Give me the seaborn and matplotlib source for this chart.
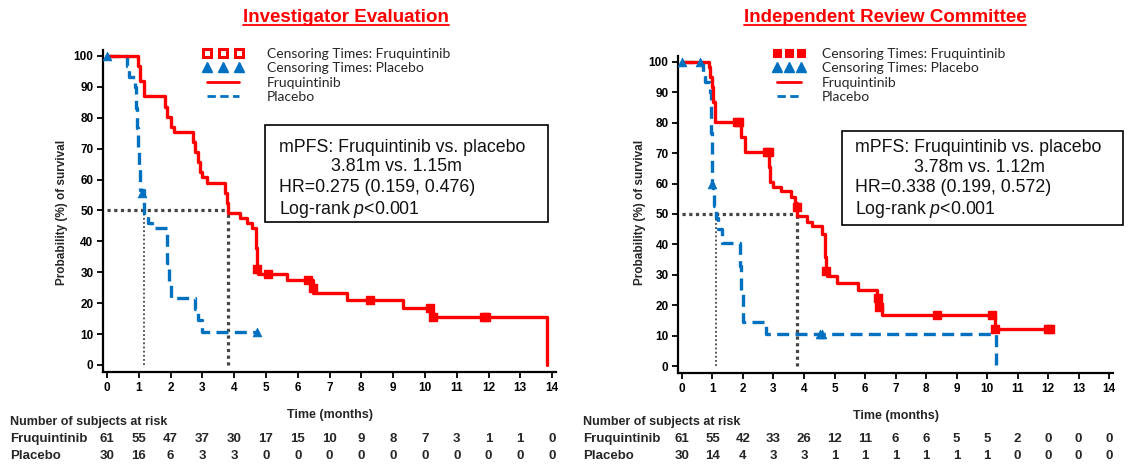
import matplotlib
matplotlib.use("Agg")
import matplotlib.pyplot as plt
import matplotlib.transforms as mtransforms
from matplotlib.lines import Line2D
from matplotlib.patches import Rectangle
import numpy as np
import pandas as pd
import seaborn as sns

# ---------------- data ----------------
months = list(range(15))

# Investigator evaluation
inv_frq_time = [0, 0.97, 1.05, 1.17, 1.82, 1.90, 2.00, 2.10, 2.72, 2.78, 2.85, 2.92, 3.00, 3.15,
                3.72, 3.78, 3.81, 4.18, 4.40, 4.55, 4.68, 4.71, 4.75, 5.65, 6.49, 7.54, 9.32,
                10.20, 13.83, 13.83]
inv_frq_surv = [100, 96.7, 91.8, 86.9, 83.6, 80.3, 77.0, 75.4, 72.1, 68.9, 65.6, 62.3, 60.7, 59.0,
                55.7, 52.5, 49.2, 47.5, 45.9, 44.2, 37.7, 31.1, 29.3, 27.5, 23.2, 21.0, 18.5,
                15.4, 15.4, 0]
inv_frq_cens_t = [4.71, 5.07, 6.33, 6.47, 8.27, 10.16, 10.25, 11.85, 11.93]
inv_frq_cens_s = [31.1, 29.3, 27.5, 25.0, 21.0, 18.5, 15.4, 15.4, 15.4]

inv_pbo_time = [0, 0.62, 0.68, 0.88, 0.90, 0.93, 0.97, 1.00, 1.04, 1.15, 1.30, 1.40, 1.88, 1.95,
                2.00, 2.77, 2.85, 2.98, 4.71]
inv_pbo_surv = [100, 96.7, 93.3, 90.0, 83.3, 76.7, 70.0, 63.3, 56.7, 48.5, 46.0, 44.2, 33.0, 27.0,
                21.6, 18.0, 14.4, 10.8, 10.8]
inv_pbo_cens_t = [0.0, 1.09, 4.71]
inv_pbo_cens_s = [100, 55.5, 10.8]

inv_medians = [3.81, 1.15]   # Fruquintinib, Placebo

inv_risk_frq = [61, 55, 47, 37, 30, 17, 15, 10, 9, 8, 7, 3, 1, 1, 0]
inv_risk_pbo = [30, 16, 6, 3, 3, 0, 0, 0, 0, 0, 0, 0, 0, 0, 0]

# Independent Review Committee
irc_frq_time = [0, 0.87, 0.93, 0.98, 1.03, 1.08, 1.93, 2.05, 2.86, 2.89, 2.98, 3.25, 3.57, 3.70,
                3.78, 4.09, 4.25, 4.60, 4.69, 4.71, 4.75, 5.07, 5.78, 6.40, 6.46, 6.55, 10.26,
                12.07]
irc_frq_surv = [100, 98.4, 95.1, 91.8, 86.9, 80.3, 75.4, 70.5, 65.5, 60.6, 59.0, 57.4, 55.7, 53.5,
                49.2, 47.5, 45.9, 43.5, 36.0, 31.1, 29.5, 27.3, 24.9, 22.3, 19.5, 16.8, 12.3,
                12.3]
irc_frq_cens_t = [1.82, 1.87, 2.80, 2.84, 3.76, 4.71, 6.42, 6.46, 8.35, 10.16, 10.26, 12.00, 12.07]
irc_frq_cens_s = [80.3, 80.3, 70.5, 70.5, 52.4, 31.1, 22.3, 19.5, 16.8, 16.8, 12.3, 12.3, 12.3]

irc_pbo_time = [0, 0.70, 0.75, 0.92, 0.94, 0.96, 0.98, 1.00, 1.03, 1.06, 1.12, 1.19, 1.30, 1.90,
                1.95, 2.00, 2.77, 10.30, 10.30]
irc_pbo_surv = [100, 96.7, 93.3, 90.0, 83.0, 76.7, 70.0, 60.0, 56.7, 52.6, 48.6, 45.0, 40.6, 33.0,
                25.0, 14.6, 10.5, 10.5, 0]
irc_pbo_cens_t = [0.0, 0.59, 1.00, 4.52, 4.58]
irc_pbo_cens_s = [100, 100, 60.0, 10.5, 10.5]

irc_medians = [3.78, 1.12]

irc_risk_frq = [61, 55, 42, 33, 26, 12, 11, 6, 6, 5, 5, 2, 0, 0, 0]
irc_risk_pbo = [30, 14, 4, 3, 3, 1, 1, 1, 1, 1, 1, 0, 0, 0, 0]

titles = ["Investigator Evaluation", "Independent Review Committee"]
box_texts = [["mPFS: Fruquintinib vs. placebo", "3.81m vs. 1.15m",
              "HR=0.275 (0.159, 0.476)", "Log-rank $p$<0.001"],
             ["mPFS: Fruquintinib vs. placebo", "3.78m vs. 1.12m",
              "HR=0.338 (0.199, 0.572)", "Log-rank $p$<0.001"]]
legend_labels = ["Censoring Times: Fruquintinib", "Censoring Times: Placebo",
                 "Fruquintinib", "Placebo"]

# ---------------- style ----------------
sns.set_style("ticks")
plt.rcParams["font.family"] = ["Liberation Sans", "DejaVu Sans"]
plt.rcParams["mathtext.fontset"] = "custom"
plt.rcParams["mathtext.it"] = "Liberation Sans:italic"
plt.rcParams["mathtext.rm"] = "Liberation Sans"

RED = "#FF0000"
BLUE = "#0070C0"
GREY = "#454545"

fig = plt.figure(figsize=(11.29, 4.68), dpi=100)
ax1 = fig.add_axes([0.0914, 0.2049, 0.401, 0.6887])
ax2 = fig.add_axes([0.6008, 0.2030, 0.3848, 0.6776])

panels = [
    dict(ax=ax1, ft=inv_frq_time, fs=inv_frq_surv, fct=inv_frq_cens_t, fcs=inv_frq_cens_s,
         pt=inv_pbo_time, ps=inv_pbo_surv, pct=inv_pbo_cens_t, pcs=inv_pbo_cens_s,
         med=inv_medians, rf=inv_risk_frq, rp=inv_risk_pbo, title=titles[0], box=box_texts[0],
         title_x=346, box_rect=(265, 125, 548, 222), box_lines_y=[147, 166, 187, 209],
         box_text_x=[279, 331, 279, 279], leg_x=203, hl=2.9, htp=1.7, leg_face="white",
         leg_ms=6.0, leg_mew=2.2, ylab_x=62, risk_x=10),
    dict(ax=ax2, ft=irc_frq_time, fs=irc_frq_surv, fct=irc_frq_cens_t, fcs=irc_frq_cens_s,
         pt=irc_pbo_time, ps=irc_pbo_surv, pct=irc_pbo_cens_t, pcs=irc_pbo_cens_s,
         med=irc_medians, rf=irc_risk_frq, rp=irc_risk_pbo, title=titles[1], box=box_texts[1],
         title_x=885, box_rect=(842, 131, 1123, 225), box_lines_y=[148, 168, 188, 210],
         box_text_x=[855, 914, 855, 855], leg_x=773, hl=2.3, htp=1.2, leg_face=RED,
         leg_ms=6.2, leg_mew=0.8, ylab_x=640, risk_x=583),
]

W, H = 1129.0, 468.0

def fx(px):
    return px / W

def fy(py):
    return 1 - py / H

for p in panels:
    ax = p["ax"]
    df_f = pd.DataFrame({"t": p["ft"], "s": p["fs"]})
    df_p = pd.DataFrame({"t": p["pt"], "s": p["ps"]})
    sns.lineplot(data=df_f, x="t", y="s", ax=ax, color=RED, lw=2.4, estimator=None,
                 sort=False, drawstyle="steps-post", zorder=4)
    sns.lineplot(data=df_p, x="t", y="s", ax=ax, color=BLUE, lw=2.4, estimator=None,
                 sort=False, drawstyle="steps-post", linestyle=(0, (3.6, 1.9)), zorder=3)
    sns.scatterplot(x=p["fct"], y=p["fcs"], ax=ax, marker="s", s=38, color=RED,
                    edgecolor=RED, linewidth=1, zorder=5)
    sns.scatterplot(x=p["pct"], y=p["pcs"], ax=ax, marker="^", s=40, color=BLUE,
                    edgecolor=BLUE, linewidth=0.5, zorder=5)

    mf, mp = p["med"]
    ax.plot([0, mf], [50, 50], color=GREY, lw=2.3, linestyle=(0, (1, 1.1)), zorder=2)
    ax.plot([mf, mf], [0, 50], color=GREY, lw=2.3, linestyle=(0, (1, 1.1)), zorder=2)
    ax.plot([mp, mp], [0, 50], color=GREY, lw=1.3, linestyle=(0, (1, 1.3)), zorder=2)

    ax.set_xlim(-0.12, 14.12)
    ax.set_ylim(-2.3, 102)
    ax.set_xticks(months)
    ax.set_yticks(range(0, 101, 10))
    ax.tick_params(direction="out", length=4, width=1.3, labelsize=8.5, pad=3, colors="black")
    for lab in ax.get_xticklabels() + ax.get_yticklabels():
        lab.set_fontweight("bold")
    for s in ["top", "right"]:
        ax.spines[s].set_visible(False)
    for s in ["left", "bottom"]:
        ax.spines[s].set_linewidth(1.6)
        ax.spines[s].set_color("black")
    ax.set_xlabel("Time (months)", fontsize=9, fontweight="bold", labelpad=11)
    ax.set_ylabel("")
    fig.text(fx(p["ylab_x"]), fy(212), "Probability (%) of survival", rotation=90,
             fontsize=8.5, fontweight="bold", ha="center", va="center")

    # title with underline
    t = fig.text(fx(p["title_x"]), fy(17), p["title"], color=RED, fontsize=13.5,
                 fontweight="bold", ha="center", va="center")
    p["title_artist"] = t

    # annotation box
    x0, y0, x1, y1 = p["box_rect"]
    fig.patches.append(Rectangle((fx(x0), fy(y1)), fx(x1) - fx(x0), fy(y0) - fy(y1),
                                 transform=fig.transFigure, fill=True, facecolor="white",
                                 edgecolor="black", lw=1.2, zorder=6))
    for txt, ty, tx in zip(p["box"], p["box_lines_y"], p["box_text_x"]):
        fig.text(fx(tx), fy(ty), txt, fontsize=12.8, ha="left", va="center", color="#111111",
                 zorder=7)

    # legend
    h_fc = Line2D([], [], marker="s", ls="none", markersize=p["leg_ms"],
                  markerfacecolor=p["leg_face"], markeredgecolor=RED,
                  markeredgewidth=p["leg_mew"])
    h_pc = Line2D([], [], marker="^", ls="none", markersize=7, markerfacecolor=BLUE,
                  markeredgecolor=BLUE)
    h_f = Line2D([], [], color=RED, lw=2)
    h_p = Line2D([], [], color=BLUE, lw=2, linestyle=(0, (3, 1.6)))
    ax.legend([h_fc, h_pc, h_f, h_p], legend_labels, loc="upper left",
              bbox_to_anchor=(fx(p["leg_x"]), fy(48)), bbox_transform=fig.transFigure,
              frameon=False, numpoints=3, handlelength=p["hl"],
              handletextpad=p["htp"], labelspacing=0.17, borderpad=0, borderaxespad=0,
              prop={"family": ["Lato", "DejaVu Sans"], "size": 10})

    # number at risk table
    trans = mtransforms.blended_transform_factory(ax.transData, fig.transFigure)
    fig.text(fx(p["risk_x"]), fy(422), "Number of subjects at risk", fontsize=9,
             fontweight="bold", ha="left", va="center")
    fig.text(fx(p["risk_x"]), fy(439), "Fruquintinib", fontsize=9.5, fontweight="bold",
             ha="left", va="center")
    fig.text(fx(p["risk_x"]), fy(456), "Placebo", fontsize=9.5, fontweight="bold",
             ha="left", va="center")
    for m, a, b in zip(months, p["rf"], p["rp"]):
        ax.text(m, fy(439), str(a), transform=trans, fontsize=9.5, fontweight="bold",
                ha="center", va="center", clip_on=False)
        ax.text(m, fy(456), str(b), transform=trans, fontsize=9.5, fontweight="bold",
                ha="center", va="center", clip_on=False)

# underline titles
fig.canvas.draw()
renderer = fig.canvas.get_renderer()
for p in panels:
    bb = p["title_artist"].get_window_extent(renderer)
    inv = fig.transFigure.inverted()
    (ux0, uy0), (ux1, _) = inv.transform([(bb.x0, bb.y0), (bb.x1, bb.y0)])
    fig.add_artist(Line2D([ux0, ux1], [uy0 + 0.002, uy0 + 0.002], color=RED, lw=1.3,
                          transform=fig.transFigure))

fig.savefig("out.png", dpi=100)
